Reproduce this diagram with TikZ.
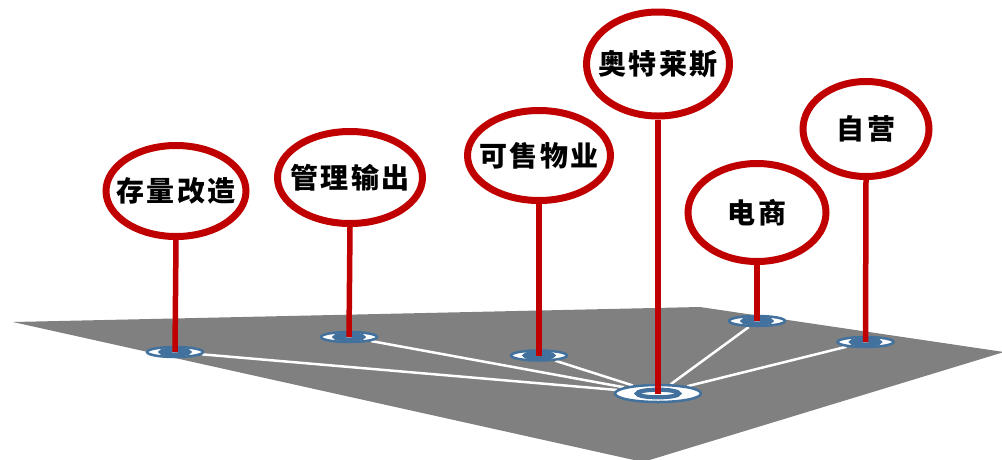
\documentclass[tikz,border=0pt]{standalone}
\usepackage{fontspec}
\newfontfamily\cjk{Noto Sans CJK SC}[LetterSpace=8]
\usetikzlibrary{shapes.geometric}
\definecolor{ringred}{RGB}{192,0,0}
\definecolor{planegray}{RGB}{128,128,128}
\definecolor{discblue}{RGB}{65,113,156}
\pgfdeclarelayer{planelayer}
\pgfdeclarelayer{linelayer}
\pgfsetlayers{planelayer,linelayer,main}
\newcommand{\balloontext}[1]{\makebox[0pt][c]{#1}}
\tikzset{
  balloon/.style={ellipse, draw=ringred, line width=7pt, fill=white, inner sep=0pt,
    font=\cjk\bfseries\fontsize{28}{30}\selectfont},
  disc/.style={ellipse, draw=discblue, line width=2.5pt, fill=white, inner sep=0pt,
    minimum width=56pt, minimum height=10pt},
  hubdisc/.style={ellipse, draw=discblue, line width=2.5pt, fill=white, inner sep=0pt,
    minimum width=86pt, minimum height=17pt},
  stem/.style={ringred, line width=5.5pt},
  link/.style={white, line width=2.5pt},
}
\begin{document}
\begin{tikzpicture}[x=1pt,y=-1pt]
\useasboundingbox (0,0) rectangle (1002,459);
% discs
\node[disc] (d1) at (175,352) {};
\node[disc] (d2) at (349,337) {};
\node[disc] (d3) at (539,355.5) {};
\node[hubdisc] (hub) at (658,393.5) {};
\node[disc] (d5) at (757,321) {};
\node[disc] (d6) at (865.5,342) {};
\foreach \n/\rx/\ry in {d1/14/2.4,d2/14/2.4,d3/14/2.4,d5/14/2.4,d6/14/2.4,hub/21/3.8}
  \draw[discblue, line width=4.2pt, fill=white] (\n.center) ellipse [x radius=\rx, y radius=\ry];
% plane and links
\begin{pgfonlayer}{planelayer}
  \clip (0,0) rectangle (1002,459);
  \fill[planegray] (13,322) -- (700,307) -- (1004,352) -- (643,462) -- cycle;
\end{pgfonlayer}
\begin{pgfonlayer}{linelayer}
  \foreach \n in {d1,d2,d3,d5,d6}
    \draw[link] (\n) -- (hub);
\end{pgfonlayer}
% balloons
\node[balloon, minimum width=140pt, minimum height=91pt] (b1) at (176,191) {\balloontext{存量改造}};
\node[balloon, minimum width=145pt, minimum height=92pt] (b2) at (350,177.5) {\balloontext{管理输出}};
\node[balloon, minimum width=143pt, minimum height=90pt] (b3) at (539,155.5) {\balloontext{可售物业}};
\node[balloon, minimum width=143pt, minimum height=104pt] (b4) at (658,64) {\balloontext{奥特莱斯}};
\node[balloon, minimum width=138pt, minimum height=98pt] (b5) at (757,212.5) {\balloontext{电商}};
\node[balloon, minimum width=126pt, minimum height=95pt] (b6) at (866,129) {\balloontext{自营}};
% stems
\draw[stem] (b1.south) -- (d1.center);
\draw[stem] (b2.south) -- (d2.center);
\draw[stem] (b3.south) -- (d3.center);
\draw[stem] (b4.south) -- (hub.center);
\draw[stem] (b5.south) -- (d5.center);
\draw[stem] (b6.south) -- (d6.center);
\end{tikzpicture}
\end{document}
